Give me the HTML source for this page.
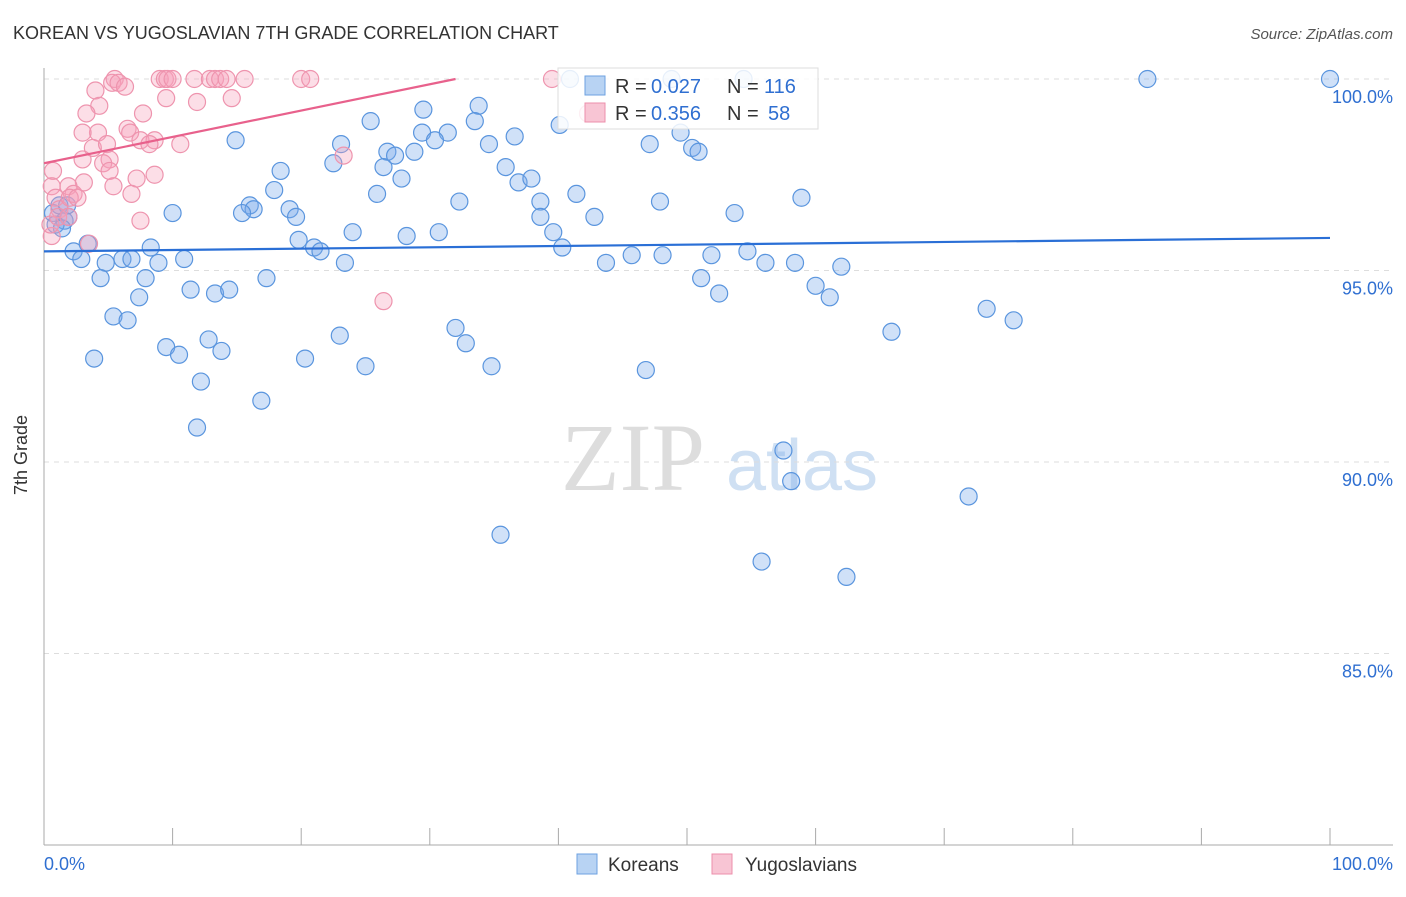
<!DOCTYPE html>
<html><head><meta charset="utf-8"><style>
body{margin:0;background:#fff;font-family:"Liberation Sans",sans-serif;}
</style></head><body>
<svg width="1406" height="892" xmlns="http://www.w3.org/2000/svg" id="chart" font-family="Liberation Sans, sans-serif">
<text x="13" y="39" font-size="18" fill="#333">KOREAN VS YUGOSLAVIAN 7TH GRADE CORRELATION CHART</text>
<text x="1393" y="39" font-size="15" fill="#555" font-style="italic" text-anchor="end">Source: ZipAtlas.com</text>
<text x="27" y="455" font-size="18" fill="#333" text-anchor="middle" transform="rotate(-90 27 455)">7th Grade</text>
<g><text x="633" y="490" font-size="96" fill="#ddd" font-family="Liberation Serif, serif" text-anchor="middle">ZIP</text><text x="802" y="490" font-size="72" fill="#cfe0f3" text-anchor="middle">atlas</text></g>
<g id="grid"></g><g id="axes"></g><g id="pts"></g><g id="lines"></g>
<g>
<rect x="558" y="68" width="260" height="61" fill="#fff" fill-opacity="0.85" stroke="#ddd"/>
<rect x="585" y="76" width="20" height="19" fill="#b8d3f3" stroke="#6ea1e0"/>
<rect x="585" y="103" width="20" height="19" fill="#f8c5d4" stroke="#ec8fab"/>
<text x="615" y="93" font-size="20" fill="#333">R =</text>
<text x="651" y="93" font-size="20" fill="#2f6fd1">0.027</text>
<text x="727" y="93" font-size="20" fill="#333">N =</text>
<text x="764" y="93" font-size="20" fill="#2f6fd1">116</text>
<text x="615" y="120" font-size="20" fill="#333">R =</text>
<text x="651" y="120" font-size="20" fill="#2f6fd1">0.356</text>
<text x="727" y="120" font-size="20" fill="#333">N =</text>
<text x="768" y="120" font-size="20" fill="#2f6fd1">58</text>
</g>
<g>
<rect x="577" y="854" width="20" height="20" fill="#b8d3f3" stroke="#6ea1e0"/>
<text x="608" y="871" font-size="19" fill="#333">Koreans</text>
<rect x="712" y="854" width="20" height="20" fill="#f8c5d4" stroke="#ec8fab"/>
<text x="745" y="871" font-size="19" fill="#333">Yugoslavians</text>
</g>
</svg>
<script>
const yTicks=[100,95,90,85];
const yTickLabels=["100.0%","95.0%","90.0%","85.0%"];
const blueX=[85.8,100,40.9,48.8,54.4,14.9,23.1,25.4,29.5,33.8,33.5,29.4,31.4,30.4,34.6,36.6,40.1,49.5,47.1,50.4,50.9,22.5,26.7,27.3,28.8,26.4,27.8,18.4,35.9,36.9,37.9,25.9,17.9,41.4,47.9,58.9,32.3,38.6,16.0,16.3,15.4,19.1,19.6,10.0,38.6,42.8,53.7,24.0,28.2,30.7,39.6,19.8,21.0,21.5,40.3,8.3,3.4,2.3,2.9,4.8,6.1,6.8,8.9,10.9,23.4,45.7,48.1,51.9,54.7,56.1,58.4,62.0,43.7,4.4,7.9,17.3,51.1,60.0,61.1,52.5,7.4,11.4,13.3,14.4,5.4,6.5,73.3,75.4,65.9,32.0,32.8,23.0,12.8,9.5,13.8,10.5,3.9,20.3,25.0,34.8,46.8,12.2,16.9,11.9,57.5,58.1,71.9,35.5,55.8,62.4,0.7,1.2,1.6,1.9,0.9,1.4,1.8];
const blueY=[100,100,100,100,100,98.4,98.3,98.9,99.2,99.3,98.9,98.6,98.6,98.4,98.3,98.5,98.8,98.6,98.3,98.2,98.1,97.8,98.1,98.0,98.1,97.7,97.4,97.6,97.7,97.3,97.4,97.0,97.1,97.0,96.8,96.9,96.8,96.8,96.7,96.6,96.5,96.6,96.4,96.5,96.4,96.4,96.5,96.0,95.9,96.0,96.0,95.8,95.6,95.5,95.6,95.6,95.7,95.5,95.3,95.2,95.3,95.3,95.2,95.3,95.2,95.4,95.4,95.4,95.5,95.2,95.2,95.1,95.2,94.8,94.8,94.8,94.8,94.6,94.3,94.4,94.3,94.5,94.4,94.5,93.8,93.7,94.0,93.7,93.4,93.5,93.1,93.3,93.2,93.0,92.9,92.8,92.7,92.7,92.5,92.5,92.4,92.1,91.6,90.9,90.3,89.5,89.1,88.1,87.4,87.0,96.5,96.7,96.3,96.4,96.2,96.1,96.7];
const pinkX=[5.5,5.3,5.8,6.3,9.0,9.4,9.6,10.0,11.7,12.9,13.3,13.7,14.2,15.6,20.0,20.7,39.5,9.5,11.9,14.6,4.0,4.3,3.3,7.7,4.2,3.0,6.5,6.7,7.5,8.6,10.6,8.2,3.8,4.9,3.0,5.1,4.6,5.1,7.2,8.6,3.1,1.9,2.3,0.7,0.6,0.9,1.2,2.0,2.6,5.4,6.8,7.5,23.3,26.4,3.5,0.6,0.5,1.1,42.3,1.9];
const pinkY=[100,99.9,99.9,99.8,100,100,100,100,100,100,100,100,100,100,100,100,100,99.5,99.4,99.5,99.7,99.3,99.1,99.1,98.6,98.6,98.7,98.6,98.4,98.4,98.3,98.3,98.2,98.3,97.9,97.9,97.8,97.6,97.4,97.5,97.3,97.2,97.0,97.6,97.2,96.9,96.6,96.9,96.9,97.2,97.0,96.3,98.0,94.2,95.7,95.9,96.2,96.4,99.1,96.4];
const blueTrend=[95.5,95.85];
const pinkTrend=[97.8,100.0,32.0];
const ns="http://www.w3.org/2000/svg";
const L=44,R=1330,T=79;
function sx(v){return L+(R-L)*v/100;}
function sy(v){return T+(100-v)*38.3;}
function mk(t,a,p){const e=document.createElementNS(ns,t);for(const k in a)e.setAttribute(k,a[k]);document.getElementById(p).appendChild(e);return e;}
yTicks.forEach((v,i)=>{
 const g=mk('line',{x1:L,x2:1393,y1:sy(v),y2:sy(v),stroke:'#ddd','stroke-dasharray':'5,5'},'grid');
 
 
 const t=mk('text',{x:1393,y:sy(v)+24,'font-size':18,fill:'#2f6fd1','text-anchor':'end'},'axes');
 t.textContent=yTickLabels[i];
 
 
});
const ax=mk('line',{x1:L,x2:L,y1:68,y2:845,stroke:'#aaa'},'axes');


const bx=mk('line',{x1:L,x2:1393,y1:845,y2:845,stroke:'#aaa'},'axes');


for(let i=0;i<=10;i++){const tk=mk('line',{x1:sx(i*10),x2:sx(i*10),y1:828,y2:845,stroke:'#aaa'},'axes');
 
 }
const xl=mk('text',{x:44,y:870,'font-size':18,fill:'#2f6fd1'},'axes');xl.textContent='0.0%';


const xr=mk('text',{x:1393,y:870,'font-size':18,fill:'#2f6fd1','text-anchor':'end'},'axes');xr.textContent='100.0%';


blueX.forEach((x,i)=>{const c=mk('circle',{cx:sx(x),cy:sy(blueY[i]),r:8.5,fill:'rgba(120,170,235,0.35)',stroke:'#5a95de','stroke-width':1.2},'pts');
 
 });
pinkX.forEach((x,i)=>{const c=mk('circle',{cx:sx(x),cy:sy(pinkY[i]),r:8.5,fill:'rgba(245,160,185,0.35)',stroke:'#ee94ae','stroke-width':1.2},'pts');
 
 });
const bl=mk('line',{x1:sx(0),y1:sy(blueTrend[0]),x2:sx(100),y2:sy(blueTrend[1]),stroke:'#2a6fd6','stroke-width':2.2},'lines');


const pl=mk('line',{x1:sx(0),y1:sy(pinkTrend[0]),x2:sx(pinkTrend[2]),y2:sy(pinkTrend[1]),stroke:'#e8618c','stroke-width':2.2},'lines');


</script>
</body></html>
